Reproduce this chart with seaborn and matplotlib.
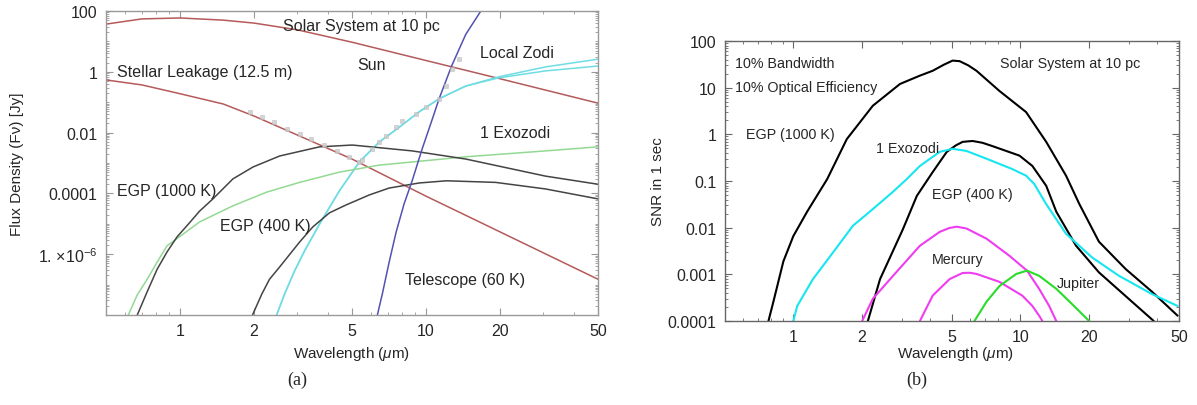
import numpy as np
import pandas as pd
import matplotlib
matplotlib.use("Agg")
import matplotlib.pyplot as plt
import seaborn as sns
from matplotlib.ticker import LogLocator, NullFormatter, FixedLocator

sns.set_style("ticks")
plt.rcParams['font.family'] = ['Liberation Sans', 'DejaVu Sans']
plt.rcParams['mathtext.fontset'] = 'custom'
plt.rcParams['mathtext.rm'] = 'Liberation Sans'
plt.rcParams['mathtext.it'] = 'Liberation Sans:italic'

# ---- panel (a): flux density vs wavelength ----
wl_solar = [0.5, 0.7, 1.0, 1.5, 2.0, 3.0, 5.0, 10.0, 20.0, 50.0]
f_solar = [37, 55, 59, 50, 40, 24, 9.4, 2.35, 0.59, 0.093]

wl_leak = [0.5, 0.7, 1.0, 1.5, 2.0, 3.0, 5.0, 10.0, 20.0, 50.0]
f_leak = [0.54, 0.37, 0.19, 0.087, 0.035, 0.0083, 0.00135, 8.1e-5, 5.4e-6, 1.5e-7]

wl_zodi = [2.47, 2.66, 2.92, 3.21, 3.69, 4.44, 5.35, 6.45, 7.78, 9.37, 11.3, 14.5, 19.7, 30.6, 50.0]
f_zodi = [1e-8, 4.9e-8, 2.8e-7, 1.3e-6, 9.8e-6, 1.2e-4, 1.07e-3, 4.9e-3, 0.015, 0.048, 0.13, 0.34, 0.68, 1.45, 2.6]
f_zodi2 = [1e-8, 4.9e-8, 2.8e-7, 1.3e-6, 9.8e-6, 1.2e-4, 1.07e-3, 4.9e-3, 0.015, 0.048, 0.13, 0.34, 0.63, 1.07, 1.55]

wl_tel = [6.34, 6.64, 7.08, 7.56, 8.14, 8.78, 9.64, 10.5, 11.3, 12.7, 14.5, 16.7]
f_tel = [1e-8, 4.9e-8, 5.5e-7, 5.4e-6, 4.5e-5, 2.6e-4, 2.9e-3, 0.022, 0.13, 1.55, 17, 100]

wl_egp1000 = [0.670, 0.735, 0.807, 0.886, 0.972, 1.10, 1.20, 1.36, 1.64, 1.98, 2.54, 3.69, 5.01, 8.78, 14.5, 30.6, 50.0]
f_egp1000 = [1e-8, 5.8e-8, 3.2e-7, 1.2e-6, 3.7e-6, 1.15e-5, 2.6e-5, 6.6e-5, 3.0e-4, 7.4e-4, 1.7e-3, 3.4e-3, 3.9e-3, 2.5e-3, 1.35e-3, 3.7e-4, 2.0e-4]

wl_egp400 = [1.97, 2.15, 2.31, 2.54, 3.06, 3.46, 4.05, 4.74, 5.88, 7.08, 9.37, 12.1, 19.2, 30.6, 50.0]
f_egp400 = [1e-8, 4.9e-8, 1.5e-7, 3.8e-7, 2.5e-6, 7.8e-6, 2.3e-5, 4.2e-5, 8.9e-5, 1.5e-4, 2.2e-4, 2.6e-4, 2.3e-4, 1.4e-4, 6.6e-5]

wl_exo = [0.616, 0.670, 0.735, 0.807, 0.886, 1.03, 1.20, 1.64, 2.25, 3.06, 4.44, 6.45, 14.5, 30.6, 50.0]
f_exo = [1e-8, 4.6e-8, 1.5e-7, 5.5e-7, 1.9e-6, 4.6e-6, 1.15e-5, 3.9e-5, 1.1e-4, 2.3e-4, 5.0e-4, 8.5e-4, 1.6e-3, 2.5e-3, 3.4e-3]

# grey squares (total noise)
wl_total = [1.92, 2.15, 2.40, 2.71, 3.06, 3.42, 3.86, 4.36, 4.88, 5.35, 5.51, 6.04, 6.45, 6.89, 7.56, 8.00, 9.12, 10.0, 11.3, 12.1, 12.7, 13.6]
f_total = [0.048, 0.032, 0.022, 0.013, 0.0089, 0.0062, 0.0039, 0.0025, 0.0016, 0.0011, 0.0013, 0.0029,
           0.0049, 0.0078, 0.015, 0.024, 0.041, 0.069, 0.13, 0.34, 1.2, 2.6]

# ---- panel (b): SNR in 1 sec ----
wl_b_egp1000 = [0.777, 0.817, 0.904, 1.0, 1.15, 1.41, 1.72, 2.24, 2.95, 3.6, 4.11, 4.6, 5.03, 5.40, 5.9, 6.41, 8.09, 10.6, 13.0, 15.9, 18.2, 22.2, 29.1, 37.9, 49.3]
snr_egp1000 = [1e-4, 2.6e-4, 1.9e-3, 6.6e-3, 0.022, 0.11, 0.79, 4.1, 12, 18, 23, 31, 38, 37, 30, 23, 8.5, 3.0, 0.69, 0.13, 0.032, 5.0e-3, 1.3e-3, 4.3e-4, 1.3e-4]

wl_b_egp400 = [2.13, 2.41, 2.75, 3.04, 3.50, 4.11, 4.74, 5.2, 5.57, 6.16, 6.8, 7.53, 9.91, 11.3, 13.0, 14.4, 17.6, 22.2, 31.0, 38.7]
snr_egp400 = [1e-4, 7.9e-4, 3.2e-3, 9.3e-3, 0.048, 0.155, 0.42, 0.58, 0.69, 0.72, 0.66, 0.56, 0.35, 0.21, 0.079, 0.022, 4.1e-3, 1.1e-3, 2.6e-4, 1e-4]

wl_b_exo = [1.0, 1.04, 1.22, 1.50, 1.83, 2.24, 2.75, 3.16, 3.61, 4.41, 5.03, 5.79, 7.10, 9.22, 10.6, 11.5, 13.0, 15.9, 20.7, 27.2, 37.9, 49.3]
snr_exo = [1e-4, 2.1e-4, 7.9e-4, 3.0e-3, 0.011, 0.025, 0.059, 0.11, 0.21, 0.42, 0.49, 0.44, 0.30, 0.18, 0.13, 0.087, 0.032, 7.4e-3, 2.3e-3, 9.3e-4, 3.8e-4, 2.1e-4]

wl_merc1 = [2.01, 2.24, 2.75, 3.61, 4.41, 4.85, 5.24, 5.79, 7.10, 8.95, 10.7, 12.1, 13.4, 14.4]
snr_merc1 = [1e-4, 3.0e-4, 9.3e-4, 4.1e-3, 8.1e-3, 9.8e-3, 0.0105, 9.6e-3, 5.8e-3, 2.5e-3, 1.2e-3, 4.9e-4, 2.1e-4, 1e-4]

wl_merc2 = [3.61, 4.11, 4.88, 5.57, 6.0, 6.41, 8.09, 10.2, 11.3, 12.1, 12.5]
snr_merc2 = [1e-4, 3.5e-4, 7.9e-4, 1.07e-3, 1.08e-3, 1.02e-3, 6.9e-4, 3.5e-4, 2.1e-4, 1.3e-4, 1e-4]

wl_jup = [6.28, 7.10, 8.09, 9.60, 10.7, 12.1, 14.4, 16.9, 20.1]
snr_jup = [1e-4, 2.6e-4, 5.6e-4, 1.02e-3, 1.2e-3, 9.3e-4, 4.9e-4, 2.3e-4, 1e-4]

xticks = [1, 2, 5, 10, 20, 50]

W, H = 1197, 406
fig = plt.figure(figsize=(W / 100, H / 100), dpi=100)


def fpos(x, y):
    return x / W, 1 - y / H


ax1 = fig.add_axes([106 / W, 1 - 316 / H, (598 - 106) / W, (316 - 12) / H])
ax2 = fig.add_axes([725 / W, 1 - 322 / H, (1179 - 725) / W, (322 - 42) / H])


def line(ax, wl, val, color, lw):
    df = pd.DataFrame({'wl': wl, 'val': val})
    sns.lineplot(data=df, x='wl', y='val', color=color, lw=lw, sort=False,
                 estimator=None, ax=ax)


# panel a
line(ax1, wl_solar, f_solar, '#b55a5a', 1.1)
line(ax1, wl_leak, f_leak, '#b55a5a', 1.1)
line(ax1, wl_zodi, f_zodi, '#6fdde3', 1.1)
line(ax1, wl_zodi, f_zodi2, '#6fdde3', 1.1)
line(ax1, wl_exo, f_exo, '#93d993', 1.1)
line(ax1, wl_egp1000, f_egp1000, '#444444', 1.1)
line(ax1, wl_egp400, f_egp400, '#444444', 1.1)
line(ax1, wl_tel, f_tel, '#5252b0', 1.1)
sns.scatterplot(x=wl_total, y=f_total, marker='s', s=12, color='#cdcdcd',
                edgecolor='#b8b8b8', linewidth=0.4, alpha=0.85, ax=ax1, zorder=5)

# panel b
line(ax2, wl_b_egp1000, snr_egp1000, 'black', 1.5)
line(ax2, wl_b_egp400, snr_egp400, 'black', 1.5)
line(ax2, wl_b_exo, snr_exo, '#16e6f0', 1.5)
line(ax2, wl_merc1, snr_merc1, '#f03cf0', 1.5)
line(ax2, wl_merc2, snr_merc2, '#f03cf0', 1.5)
line(ax2, wl_jup, snr_jup, '#28dc28', 1.5)

for ax, ylim, fc in [(ax1, (1e-8, 100), '#999999'), (ax2, (1e-4, 100), '#666666')]:
    ax.set_xscale('log')
    ax.set_yscale('log')
    ax.set_xlim(0.5, 50)
    ax.set_ylim(*ylim)
    ax.set_xticks(xticks)
    ax.set_xticklabels([str(t) for t in xticks])
    ax.xaxis.set_minor_locator(FixedLocator([0.6, 0.7, 0.8, 0.9, 3, 4, 6, 7, 8, 9, 30, 40]))
    ax.xaxis.set_minor_formatter(NullFormatter())
    ax.yaxis.set_minor_locator(LogLocator(base=10, subs=np.arange(2, 10), numticks=100))
    ax.yaxis.set_minor_formatter(NullFormatter())
    for s in ax.spines.values():
        s.set_visible(True)
        s.set_color(fc)
        s.set_linewidth(1.0)
    ax.tick_params(which='both', direction='in', top=True, right=True, color=fc,
                   labelsize=11.5, pad=6)
    ax.tick_params(which='major', length=5)
    ax.tick_params(which='minor', length=2.5, width=0.6)
    ax.set_xlabel('Wavelength ($\\mu$m)', fontsize=11)

ax1.set_yticks([100, 1, 0.01, 1e-4, 1e-6])
ax1.yaxis.set_minor_locator(FixedLocator([10, 0.1, 1e-3, 1e-5, 1e-7] +
                                         [m * 10.0 ** e for e in range(-8, 2) for m in range(2, 10)]))
ax1.set_yticklabels(['100', '1', '0.01', '0.0001', '1. $\\times$10$^{-6}$'])
ax2.set_yticks([100, 10, 1, 0.1, 0.01, 0.001, 0.0001])
ax2.set_yticklabels(['100', '10', '1', '0.1', '0.01', '0.001', '0.0001'])

ax1.set_ylabel('Flux Density (F\u03bd) [Jy]', fontsize=11)
ax2.set_ylabel('SNR in 1 sec', fontsize=11)
ax1.yaxis.set_label_coords(-0.166, 0.5)
ax2.yaxis.set_label_coords(-0.133, 0.5)
ax1.xaxis.set_label_coords(0.5, -0.095)
ax2.xaxis.set_label_coords(0.507, -0.082)

# annotations panel a
labels_a = [("Solar System at 10 pc", 283, 27), ("Stellar Leakage (12.5 m)", 117, 73),
            ("Sun", 357, 66), ("Local Zodi", 480, 53), ("1 Exozodi", 480, 133),
            ("EGP (1000 K)", 117, 192), ("EGP (400 K)", 220, 227),
            ("Telescope (60 K)", 405, 280)]
for t, x, y in labels_a:
    fig.text(*fpos(x, y), t, fontsize=11.5, ha='left', va='center')

labels_b = [("10% Bandwidth", 735, 64), ("10% Optical Efficiency", 735, 88),
            ("EGP (1000 K)", 746, 135), ("1 Exozodi", 876, 149),
            ("Solar System at 10 pc", 1000, 64), ("EGP (400 K)", 932, 195),
            ("Mercury", 932, 260), ("Jupiter", 1057, 284)]
for t, x, y in labels_b:
    fig.text(*fpos(x, y), t, fontsize=10.3, ha='left', va='center')

fig.text(*fpos(297, 380), '(a)', fontsize=13, ha='center', va='center',
         family='Liberation Serif')
fig.text(*fpos(917, 380), '(b)', fontsize=13, ha='center', va='center',
         family='Liberation Serif')

fig.savefig('out.png', dpi=100, facecolor='white')
